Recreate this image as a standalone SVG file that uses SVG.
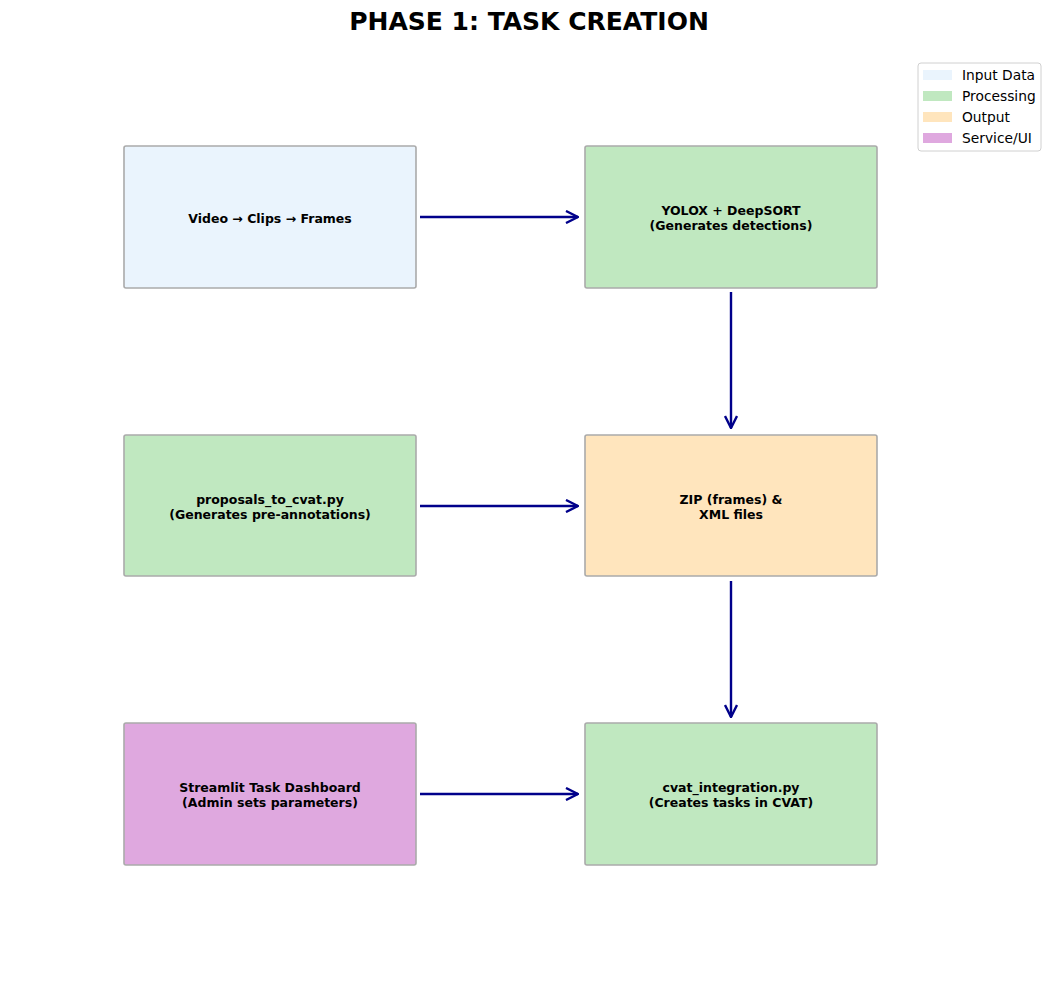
<svg xmlns="http://www.w3.org/2000/svg" width="1058" height="989" viewBox="0 0 1058 989">
<defs>
<marker id="ah" viewBox="0 0 14 14" refX="13" refY="7" markerWidth="14" markerHeight="14" markerUnits="userSpaceOnUse" orient="auto">
<path d="M1,1 L13,7 L1,13" fill="none" stroke="#00008b" stroke-width="2.4"/>
</marker>
<style>
.box{stroke:#aaaaaa;stroke-width:1.6}
.t{font-family:"DejaVu Sans",sans-serif;font-weight:bold;font-size:12.5px;text-anchor:middle;fill:#000}
.lg{font-family:"DejaVu Sans",sans-serif;font-size:13.8px;fill:#000}
.c{stroke:#00008b;stroke-width:2.4;fill:none;marker-end:url(#ah)}
.inp{fill:#eaf4fd}.proc{fill:#c0e8c0}.out{fill:#ffe5bd}.svc{fill:#dfa8df}
</style>
</defs>
<rect width="1058" height="989" fill="#fff"/>
<text x="529" y="30" font-family="DejaVu Sans, sans-serif" font-weight="bold" font-size="25" text-anchor="middle">PHASE 1: TASK CREATION</text>
<g id="connectors">
<line class="c" x1="420" y1="217" x2="578" y2="217"/>
<line class="c" x1="731" y1="292" x2="731" y2="428"/>
<line class="c" x1="420" y1="506" x2="578" y2="506"/>
<line class="c" x1="731" y1="581" x2="731" y2="717"/>
<line class="c" x1="420" y1="794" x2="578" y2="794"/>
</g>
<g id="video">
<rect class="box inp" x="124" y="146" width="292" height="142" rx="2"/>
<text class="t" x="270" y="223">Video → Clips → Frames</text>
</g>
<g id="yolox">
<rect class="box proc" x="585" y="146" width="292" height="142" rx="2"/>
<text class="t" x="731" y="215">YOLOX + DeepSORT</text>
<text class="t" x="731" y="230">(Generates detections)</text>
</g>
<g id="proposals">
<rect class="box proc" x="124" y="435" width="292" height="141" rx="2"/>
<text class="t" x="270" y="504">proposals_to_cvat.py</text>
<text class="t" x="270" y="519">(Generates pre-annotations)</text>
</g>
<g id="zip">
<rect class="box out" x="585" y="435" width="292" height="141" rx="2"/>
<text class="t" x="731" y="504">ZIP (frames) &amp;</text>
<text class="t" x="731" y="519">XML files</text>
</g>
<g id="streamlit">
<rect class="box svc" x="124" y="723" width="292" height="142" rx="2"/>
<text class="t" x="270" y="792">Streamlit Task Dashboard</text>
<text class="t" x="270" y="807">(Admin sets parameters)</text>
</g>
<g id="cvat">
<rect class="box proc" x="585" y="723" width="292" height="142" rx="2"/>
<text class="t" x="731" y="792">cvat_integration.py</text>
<text class="t" x="731" y="807">(Creates tasks in CVAT)</text>
</g>
<g id="legend">
<rect x="918" y="63" width="123" height="88" rx="3" fill="#fff" stroke="#d0d0d0" stroke-width="1"/>
<rect class="inp" x="923" y="70" width="29" height="10"/>
<text class="lg" x="962" y="80">Input Data</text>
<rect class="proc" x="923" y="91" width="29" height="10"/>
<text class="lg" x="962" y="101">Processing</text>
<rect class="out" x="923" y="112" width="29" height="10"/>
<text class="lg" x="962" y="122">Output</text>
<rect class="svc" x="923" y="133" width="29" height="10"/>
<text class="lg" x="962" y="143">Service/UI</text>
</g>
</svg>
